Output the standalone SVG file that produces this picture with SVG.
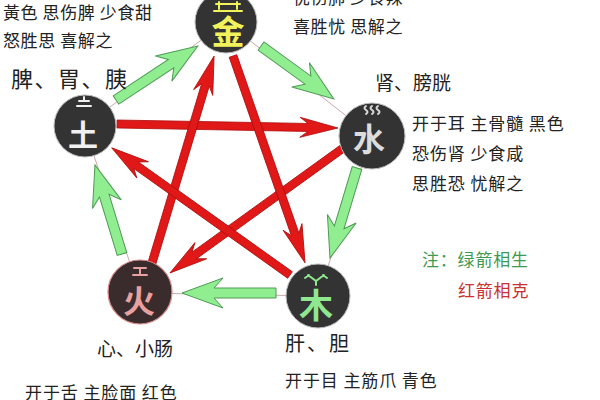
<svg xmlns="http://www.w3.org/2000/svg" width="600" height="400" viewBox="0 0 600 400">
<defs>
<style>
.t{font-family:"Noto Sans CJK SC","Noto Sans",sans-serif;fill:#222}
.s{font-size:17px;letter-spacing:0.6px}
.w{font-size:17px;letter-spacing:0.9px}
.g{fill:#90ee90;stroke:#4f9a55;stroke-width:1}
.r{fill:#e01818;stroke:#b00c0c;stroke-width:0.8}
.thin{stroke:#c9a9a9;stroke-width:1;fill:none}
.c{fill:#333;stroke:#bbb;stroke-width:1}
.gl{font-family:"Noto Sans CJK SC","Noto Sans",sans-serif;text-anchor:middle;font-weight:bold}
.d{fill:none;stroke-width:2;stroke-linecap:round}
</style>
</defs>
<rect width="600" height="400" fill="#fff"/>
<g id="connectors">
<line class="thin" x1="84" y1="126" x2="226" y2="22"/>
<line class="thin" x1="226" y1="22" x2="372" y2="136"/>
<line class="thin" x1="372" y1="136" x2="318" y2="296"/>
<line class="thin" x1="318" y1="296" x2="140" y2="293"/>
<line class="thin" x1="140" y1="293" x2="84" y2="126"/>
<path class="g" transform="translate(116,100) rotate(-33.4)" d="M0,-5 L66,-5 L57,-15 L98,0 L57,15 L66,5 L0,5 Z"/>
<path class="g" transform="translate(261,46) rotate(36)" d="M0,-5 L58,-5 L49,-15 L90,0 L49,15 L58,5 L0,5 Z"/>
<path class="g" transform="translate(357,168) rotate(106.7)" d="M0,-5 L62,-5 L53,-15 L94,0 L53,15 L62,5 L0,5 Z"/>
<path class="g" transform="translate(276,293) rotate(180)" d="M0,-5 L62,-5 L53,-15 L94,0 L53,15 L62,5 L0,5 Z"/>
<path class="g" transform="translate(122,254) rotate(253.1)" d="M0,-5 L61,-5 L52,-15 L93,0 L52,15 L61,5 L0,5 Z"/>
<path class="r" transform="translate(117,124) rotate(1.04)" d="M0,-4 L191,-4 L183,-10 L221,0 L183,10 L191,4 L0,4 Z"/>
<path class="r" transform="translate(346,146) rotate(144.2)" d="M0,-4 L187,-4 L179,-10 L217,0 L179,10 L187,4 L0,4 Z"/>
<path class="r" transform="translate(152,263) rotate(-73.3)" d="M0,-4 L186,-4 L178,-10 L216,0 L178,10 L186,4 L0,4 Z"/>
<path class="r" transform="translate(233,56) rotate(70.8)" d="M0,-4 L189,-4 L181,-10 L219,0 L181,10 L189,4 L0,4 Z"/>
<path class="r" transform="translate(290,275) rotate(215.5)" d="M0,-4 L189,-4 L181,-10 L219,0 L181,10 L189,4 L0,4 Z"/>
</g>
<g id="node-metal">
<circle class="c" cx="226" cy="22" r="31"/>
<path class="d" stroke="#f2f25a" d="M216,4 H240 M219,2 V9 M237,2 V9 M214,11 H242"/>
<text class="gl" x="228" y="44" font-size="33" fill="#f2f25a">金</text>
</g>
<g id="node-earth">
<circle class="c" cx="85" cy="126" r="31"/>
<path class="d" stroke="#f0f0f0" d="M84,97 V100 M79,101 H89 M77,106 H91"/>
<text class="gl" x="83" y="146" font-size="30" fill="#f0f0f0" font-weight="normal">土</text>
</g>
<g id="node-water">
<circle class="c" cx="372" cy="136" r="33"/>
<path class="d" stroke="#d8d8d8" stroke-width="1.6" d="M366,106 q-3,2 0,4 q3,2 0,4 M372,106 q-3,2 0,4 q3,2 0,4 M378,106 q-3,2 0,4 q3,2 0,4"/>
<text class="gl" x="369" y="151" font-size="32" fill="#dcdcdc" font-weight="normal">水</text>
</g>
<g id="node-fire">
<circle cx="140" cy="292" r="32" fill="#3a2c2c" stroke="#d88c8c" stroke-width="1.2"/>
<path class="d" stroke="#e8a0a0" d="M134,268 H146 M140,268 V275 M133,275 H147"/>
<text class="gl" x="139" y="313" font-size="32" fill="#e8a0a0" font-weight="normal">火</text>
</g>
<g id="node-wood">
<circle class="c" cx="318" cy="296" r="32"/>
<path class="d" stroke="#8fe88f" d="M308,275 L316,281 L324,275 M316,281 V285 M305,278 L309,275 M327,278 L323,275"/>
<text class="gl" x="316" y="318" font-size="34" fill="#8fe88f">木</text>
</g>
<g id="labels">
<text class="t s" x="3" y="19">黃色 思伤脾 少食甜</text>
<text class="t s" x="3" y="47">怒胜思 喜解之</text>
<text class="t" x="11" y="87" font-size="22" letter-spacing="1.5">脾、胃、胰</text>
<text class="t s" x="293" y="4">忧伤肺 少食辣</text>
<text class="t s" x="293" y="33">喜胜忧 思解之</text>
<text class="t" x="375" y="90" font-size="19">肾、膀胱</text>
<text class="t w" x="412" y="130">开于耳 主骨髓 黑色</text>
<text class="t w" x="412" y="160">恐伤肾 少食咸</text>
<text class="t w" x="412" y="190">思胜恐 忧解之</text>
<text class="t" x="422" y="266" font-size="17" letter-spacing="0.8" style="fill:#3e9a52">注：绿箭相生</text>
<text class="t" x="458" y="297" font-size="17" letter-spacing="0.8" style="fill:#c83232">红箭相克</text>
<text class="t" x="97" y="356" font-size="19">心、小肠</text>
<text class="t" x="285" y="351" font-size="20" letter-spacing="2">肝、胆</text>
<text class="t w" x="285" y="387">开于目 主筋爪 青色</text>
<text class="t w" x="25" y="399">开于舌 主脸面 红色</text>
</g>
</svg>
